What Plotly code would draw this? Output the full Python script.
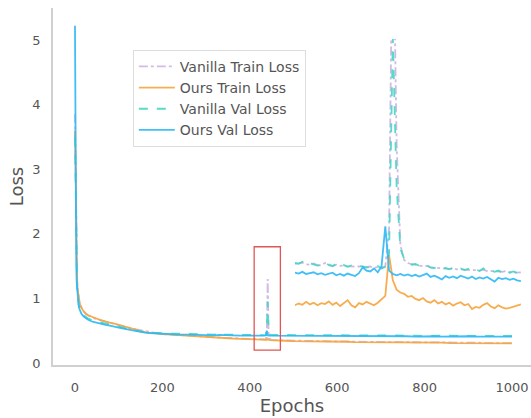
import plotly.graph_objects as go

# ---------------- main curves ----------------
epochs = [0, 1, 2, 3, 4, 5, 6, 8, 10, 12,
          15, 20, 25, 30, 40, 50, 60, 70, 80, 90,
          100, 120, 140, 160, 170, 180, 200, 220, 240, 260,
          280, 300, 320, 330, 340, 360, 380, 400, 420, 430,
          437, 439, 441, 443, 446, 450, 460, 480, 500, 520,
          540, 560, 580, 600, 620, 640, 660, 680, 700, 720,
          740, 760, 780, 800, 820, 840, 860, 880, 900, 920,
          940, 960, 980, 1000]

vanilla_train = [3.85, 3.1, 2.3, 1.75, 1.45, 1.28, 1.16, 1.03, 0.96, 0.9,
                 0.86, 0.8, 0.77, 0.74, 0.7, 0.68, 0.66, 0.65, 0.63, 0.61,
                 0.59, 0.55, 0.52, 0.49, 0.48, 0.47, 0.45, 0.44, 0.43, 0.42,
                 0.41, 0.405, 0.4, 0.395, 0.39, 0.385, 0.38, 0.375, 0.37, 0.365,
                 0.365, 0.5, 1.3, 0.45, 0.37, 0.36, 0.355, 0.35, 0.345, 0.345,
                 0.34, 0.34, 0.335, 0.335, 0.335, 0.33, 0.33, 0.33, 0.325, 0.325,
                 0.325, 0.325, 0.32, 0.32, 0.32, 0.32, 0.315, 0.315, 0.315, 0.315,
                 0.31, 0.31, 0.31, 0.31]

ours_train = [3.6, 3.0, 2.2, 1.7, 1.42, 1.25, 1.14, 1.02, 0.95, 0.9,
              0.85, 0.8, 0.76, 0.74, 0.71, 0.68, 0.66, 0.64, 0.63, 0.61,
              0.59, 0.55, 0.51, 0.48, 0.47, 0.46, 0.45, 0.44, 0.43, 0.42,
              0.41, 0.4, 0.395, 0.39, 0.385, 0.38, 0.375, 0.37, 0.365, 0.36,
              0.36, 0.36, 0.38, 0.36, 0.355, 0.355, 0.35, 0.345, 0.34, 0.34,
              0.335, 0.335, 0.33, 0.33, 0.33, 0.325, 0.325, 0.325, 0.32, 0.32,
              0.32, 0.32, 0.315, 0.315, 0.315, 0.315, 0.31, 0.31, 0.31, 0.31,
              0.305, 0.305, 0.305, 0.305]

vanilla_val = [3.5, 2.85, 2.0, 1.55, 1.3, 1.15, 1.05, 0.93, 0.87, 0.82,
               0.78, 0.74, 0.71, 0.69, 0.66, 0.64, 0.62, 0.61, 0.6, 0.58,
               0.56, 0.53, 0.5, 0.48, 0.49, 0.47, 0.46, 0.455, 0.45, 0.45,
               0.445, 0.445, 0.44, 0.47, 0.44, 0.44, 0.435, 0.435, 0.435, 0.43,
               0.43, 0.55, 0.95, 0.5, 0.44, 0.435, 0.435, 0.43, 0.43, 0.43,
               0.43, 0.43, 0.425, 0.43, 0.425, 0.43, 0.425, 0.425, 0.43, 0.425,
               0.425, 0.425, 0.425, 0.42, 0.425, 0.42, 0.425, 0.42, 0.42, 0.425,
               0.42, 0.42, 0.42, 0.42]

ours_val = [5.22, 2.95, 1.95, 1.5, 1.25, 1.1, 1.0, 0.9, 0.84, 0.8,
            0.76, 0.72, 0.69, 0.67, 0.64, 0.62, 0.61, 0.59, 0.58, 0.56,
            0.55, 0.52, 0.49, 0.47, 0.465, 0.46, 0.45, 0.445, 0.44, 0.44,
            0.435, 0.435, 0.43, 0.435, 0.43, 0.43, 0.425, 0.43, 0.425, 0.425,
            0.43, 0.5, 0.43, 0.425, 0.425, 0.42, 0.425, 0.42, 0.42, 0.42,
            0.42, 0.415, 0.42, 0.415, 0.42, 0.415, 0.415, 0.42, 0.415, 0.415,
            0.415, 0.415, 0.41, 0.415, 0.415, 0.41, 0.415, 0.41, 0.415, 0.41,
            0.41, 0.415, 0.41, 0.41]

# ---------------- zoomed inset (epochs 410-470) ----------------
inset_epochs = list(range(410, 471))

inset_vanilla_val = [0.418, 0.416, 0.421, 0.414, 0.417, 0.415, 0.412, 0.414, 0.420, 0.413,
                     0.411, 0.416, 0.410, 0.413, 0.409, 0.412, 0.408, 0.411, 0.410, 0.407,
                     0.409, 0.408, 0.411, 0.405, 0.409, 0.440, 0.950, 0.600, 0.452, 0.428,
                     0.420, 0.414, 0.416, 0.411, 0.409, 0.413, 0.407, 0.406, 0.409, 0.404,
                     0.406, 0.403, 0.407, 0.402, 0.405, 0.401, 0.404, 0.400, 0.403, 0.399,
                     0.405, 0.398, 0.401, 0.397, 0.400, 0.396, 0.402, 0.395, 0.398, 0.394,
                     0.397]

inset_vanilla_train = [0.416, 0.418, 0.419, 0.415, 0.414, 0.417, 0.413, 0.412, 0.418, 0.415,
                       0.410, 0.414, 0.411, 0.412, 0.410, 0.410, 0.409, 0.410, 0.408, 0.408,
                       0.410, 0.406, 0.409, 0.407, 0.410, 0.500, 1.300, 0.700, 0.460, 0.425,
                       0.418, 0.415, 0.414, 0.412, 0.410, 0.411, 0.408, 0.407, 0.407, 0.405,
                       0.405, 0.404, 0.405, 0.403, 0.403, 0.402, 0.402, 0.401, 0.401, 0.400,
                       0.402, 0.399, 0.399, 0.398, 0.398, 0.397, 0.399, 0.396, 0.396, 0.395,
                       0.396]

inset_ours_train = [0.318, 0.322, 0.319, 0.326, 0.320, 0.324, 0.318, 0.323, 0.321, 0.327,
                    0.319, 0.324, 0.316, 0.322, 0.330, 0.318, 0.313, 0.323, 0.320, 0.326,
                    0.321, 0.318, 0.324, 0.332, 0.340, 0.437, 0.377, 0.355, 0.348, 0.345,
                    0.338, 0.340, 0.333, 0.330, 0.335, 0.327, 0.324, 0.330, 0.322, 0.326,
                    0.320, 0.324, 0.317, 0.322, 0.325, 0.318, 0.321, 0.309, 0.314, 0.312,
                    0.319, 0.323, 0.315, 0.311, 0.318, 0.313, 0.310, 0.312, 0.315, 0.317,
                    0.320]

inset_ours_val = [0.395, 0.393, 0.397, 0.392, 0.394, 0.396, 0.391, 0.394, 0.390, 0.393,
                  0.395, 0.389, 0.392, 0.388, 0.393, 0.390, 0.387, 0.394, 0.408, 0.400,
                  0.398, 0.405, 0.396, 0.410, 0.505, 0.400, 0.392, 0.389, 0.392, 0.388,
                  0.391, 0.387, 0.390, 0.386, 0.389, 0.393, 0.385, 0.388, 0.384, 0.379,
                  0.387, 0.383, 0.386, 0.382, 0.388, 0.384, 0.381, 0.386, 0.380, 0.384,
                  0.381, 0.385, 0.379, 0.374, 0.383, 0.380, 0.382, 0.378, 0.381, 0.377,
                  0.375]

names = ["Vanilla Train Loss", "Ours Train Loss", "Vanilla Val Loss", "Ours Val Loss"]
colors = ["#CDB4E2", "#F7A53C", "#45D6C6", "#2DB8F5"]
dashes = ["dashdot", "solid", "dash", "solid"]

main_series = [vanilla_train, ours_train, vanilla_val, ours_val]
inset_series = [inset_vanilla_train, inset_ours_train, inset_vanilla_val, inset_ours_val]

fig = go.Figure()
for name, ys, c, d in zip(names, main_series, colors, dashes):
    fig.add_trace(go.Scatter(x=epochs, y=ys, mode="lines", name=name,
                             line=dict(color=c, width=1.8, dash=d), opacity=0.9))
for name, ys, c, d in zip(names, inset_series, colors, dashes):
    fig.add_trace(go.Scatter(x=inset_epochs, y=ys, mode="lines", name=name,
                             showlegend=False, xaxis="x2", yaxis="y2",
                             line=dict(color=c, width=1.8, dash=d), opacity=0.9))

axis_font = dict(family="DejaVu Sans", size=13, color="#555555")
title_font = dict(family="DejaVu Sans", size=18, color="#555555")
fig.update_layout(
    width=531, height=418,
    margin=dict(l=53, r=0, t=8, b=53, autoexpand=False),
    paper_bgcolor="white", plot_bgcolor="white",
    font=dict(family="DejaVu Sans", color="#555555"),
    xaxis=dict(range=[-50.3, 1043.5], tickvals=[0, 200, 400, 600, 800, 1000],
               showgrid=False, zeroline=False, showline=True, linecolor="#d0d0d0",
               linewidth=1.5, ticks="outside", ticklen=10, tickcolor="rgba(0,0,0,0)",
               tickfont=axis_font, automargin=False,
               title=dict(text="Epochs", font=title_font, standoff=4)),
    yaxis=dict(range=[-0.03, 5.495], tickvals=[0, 1, 2, 3, 4, 5],
               showgrid=False, zeroline=False, showline=True, linecolor="#d0d0d0",
               linewidth=1.5, ticks="outside", ticklen=8, tickcolor="rgba(0,0,0,0)",
               tickfont=axis_font, automargin=False,
               title=dict(text="Loss", font=title_font, standoff=4)),
    xaxis2=dict(domain=[0.506, 0.979], range=[410, 470], anchor="y2", visible=False),
    yaxis2=dict(domain=[0.126, 0.913], range=[0.283, 0.948], anchor="x2", visible=False),
    legend=dict(x=0.167, y=0.883, xanchor="left", yanchor="top", itemwidth=36,
                bgcolor="white", bordercolor="#dddddd", borderwidth=1,
                font=dict(family="DejaVu Sans", size=14, color="#555555")),
    shapes=[dict(type="rect", xref="x", yref="y", x0=410, x1=470, y0=0.2, y1=1.8,
                 line=dict(color="#E05555", width=1.3), fillcolor="rgba(0,0,0,0)")],
)

fig.write_html(
    "out.html",
    config={"displayModeBar": False},
    post_script="document.body.style.margin='0';document.body.style.overflow='hidden';",
)
